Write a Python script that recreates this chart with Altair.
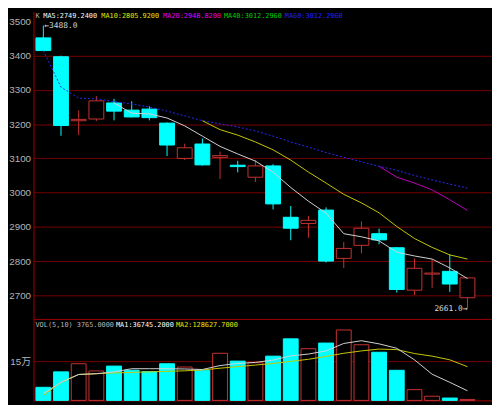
import altair as alt
import pandas as pd

# ---------------- data ----------------
opens  = [3452, 3397, 3210, 3215, 3262, 3241, 3244, 3203, 3100, 3142, 3103, 3080, 3045,
          3078, 2928, 2910, 2949, 2808, 2846, 2880, 2839, 2715, 2762, 2770, 2693]
closes = [3415, 3196, 3214, 3268, 3238, 3221, 3219, 3139, 3131, 3081, 3108, 3076, 3078,
          2967, 2896, 2919, 2800, 2837, 2896, 2862, 2717, 2779, 2765, 2733, 2751]
highs  = [3488, 3400, 3240, 3282, 3274, 3267, 3252, 3205, 3143, 3158, 3120, 3093, 3095,
          3083, 2961, 2932, 2957, 2856, 2916, 2895, 2841, 2808, 2806, 2820, 2751]
lows   = [3413, 3166, 3168, 3209, 3211, 3220, 3211, 3107, 3095, 3079, 3040, 3059, 3031,
          2951, 2861, 2868, 2796, 2780, 2823, 2849, 2708, 2701, 2722, 2710, 2661]
volumes = [50000, 109000, 140000, 112500, 131000, 115000, 110000, 140000, 127500, 115000,
           180000, 150000, 144000, 169000, 235000, 197500, 219000, 269000, 212500, 184000,
           115000, 41000, 16000, 9000, 3765]

ma5_start = 4
ma5 = [3262, 3232, 3230, 3218, 3195, 3165, 3135, 3113, 3092, 3060, 3015, 2975, 2940,
       2880, 2871, 2859, 2826, 2815, 2806, 2780, 2749]
ma10_start = 9
ma10 = [3210, 3184, 3168, 3148, 3125, 3095, 3060, 3028, 2995, 2970, 2941, 2901, 2866,
        2840, 2818, 2806]
ma20_start = 19
ma20 = [3077, 3045, 3028, 3008, 2979, 2948]
ma60_start = 0
ma60 = [3415, 3308, 3276, 3274, 3266, 3259, 3250, 3238, 3224, 3210, 3201, 3192, 3180,
        3165, 3148, 3133, 3117, 3103, 3090, 3077, 3065, 3050, 3037, 3025, 3013]

vol_ma5 = [26000, 69000, 99000, 102000, 109000, 121000, 121000, 121000, 120000, 118000,
           133000, 141000, 145000, 154000, 170000, 177000, 189000, 217500, 228000, 216000,
           199000, 155000, 100000, 69000, 36745]
vol_ma10 = [19000, 69000, 99000, 102000, 105000, 107000, 109000, 111000, 113000, 116000,
            123000, 129000, 135000, 141000, 149000, 157000, 168000, 180000, 189000, 196000,
            194000, 179000, 169000, 155000, 128628]

price_ticks = [2700, 2800, 2900, 3000, 3100, 3200, 3300, 3400, 3500]
vol_ticks = [150000]
vol_tick_label = "15万"

header_texts = ["K", "MA5:2749.2400", "MA10:2805.9200", "MA20:2948.8200",
                "MA40:3012.2960", "MA60:3012.2960"]
vol_header_texts = ["VOL(5,10) 3765.0000", "MA1:36745.2000", "MA2:128627.7000"]

# ---------------- styling ----------------
BG = "#000000"
CYAN = "#00ffff"
RED = "#c83232"
GRID = "#780000"
AXIS = "#a00000"
LABEL = "#b4b4b4"
MONO = "DejaVu Sans Mono"
SANS = "Liberation Sans, Noto Sans CJK SC"

header_colors = ["#b4b4b4", "#ffffff", "#e6e600", "#e600e6", "#00d000", "#2020ff"]
header_x = [2, 10, 69, 132, 194, 256]
vol_header_colors = ["#b4b4b4", "#ffffff", "#e6e600"]
vol_header_x = [2, 84, 145]

W = 467
H1 = 313
H2 = 83

n = len(opens)
df = pd.DataFrame({
    "i": list(range(n)),
    "open": opens, "close": closes, "high": highs, "low": lows, "vol": volumes,
    "vma5": vol_ma5, "vma10": vol_ma10,
})
df["dir"] = ["up" if c >= o else "down" for o, c in zip(opens, closes)]


def series(start, vals):
    return pd.DataFrame({"i": list(range(start, start + len(vals))), "v": vals})


xs = alt.Scale(domain=[-0.5556, 25.3889], nice=False, zero=False)
ys = alt.Scale(domain=[2631.1, 3528.7], nice=False, zero=False)
vs = alt.Scale(domain=[0, 311250], nice=False, zero=False)
dir_dom = ["up", "down"]
stroke_scale = alt.Scale(domain=dir_dom, range=[RED, CYAN])
fill_scale = alt.Scale(domain=dir_dom, range=[BG, CYAN])

x_axis = alt.Axis(labels=False, ticks=False, grid=False, domainColor=AXIS, title=None,
                  minExtent=0, maxExtent=0)
y_axis = alt.Axis(values=price_ticks, title=None, ticks=False, grid=True, gridColor=GRID,
                  gridOpacity=alt.condition("datum.value >= 3500", alt.value(0), alt.value(1)),
                  domainColor=AXIS, labelColor=LABEL, labelFont=SANS, labelFontSize=10,
                  labelPadding=3, minExtent=25, maxExtent=25, format="d")
v_axis = alt.Axis(values=vol_ticks, title=None, ticks=False, grid=True, gridColor=GRID,
                  domainColor=AXIS, labelColor=LABEL, labelFont=SANS, labelFontSize=10,
                  labelPadding=3, minExtent=25, maxExtent=25,
                  labelExpr="'" + vol_tick_label + "'")

X = lambda f: alt.X(f, type="quantitative", scale=xs, axis=x_axis)

base = alt.Chart(df)

wicks = base.mark_rule(strokeWidth=1).encode(
    x=X("i"),
    y=alt.Y("low:Q", scale=ys, axis=y_axis),
    y2="high:Q",
    color=alt.Color("dir:N", scale=stroke_scale, legend=None),
)

bodies = base.transform_calculate(
    xl="datum.i - 0.42", xr="datum.i + 0.42"
).mark_rect(strokeWidth=1).encode(
    x=X("xl"), x2="xr:Q",
    y=alt.Y("open:Q", scale=ys, axis=y_axis), y2="close:Q",
    fill=alt.Fill("dir:N", scale=fill_scale, legend=None),
    stroke=alt.Stroke("dir:N", scale=stroke_scale, legend=None),
)


def ma_line(start, vals, color, dash=None, scale=ys, axis=y_axis):
    kw = dict(color=color, strokeWidth=1)
    if dash:
        kw["strokeDash"] = dash
    return alt.Chart(series(start, vals)).mark_line(**kw).encode(
        x=X("i"), y=alt.Y("v:Q", scale=scale, axis=axis))


l60 = ma_line(ma60_start, ma60, "#2a2aff", dash=[2, 2])
l20 = ma_line(ma20_start, ma20, "#c000c0")
l10 = ma_line(ma10_start, ma10, "#c8c800")
l5 = ma_line(ma5_start, ma5, "#d2d2d2")

hi_i = highs.index(max(highs))
lo_i = lows.index(min(lows))
ann_hi = alt.Chart(pd.DataFrame({"i": [hi_i], "p": [max(highs)],
                                 "t": ["\u2190" + f"{max(highs):.1f}"]})).mark_text(
    align="left", baseline="middle", font=MONO, fontSize=8, color="#d8d8d8", dx=1
).encode(x=X("i"), y=alt.Y("p:Q", scale=ys, axis=y_axis), text="t:N")
ann_lo = alt.Chart(pd.DataFrame({"i": [lo_i], "p": [min(lows)],
                                 "t": [f"{min(lows):.1f}" + "\u2192"]})).mark_text(
    align="right", baseline="middle", font=MONO, fontSize=8, color="#d8d8d8", dx=0
).encode(x=X("i"), y=alt.Y("p:Q", scale=ys, axis=y_axis), text="t:N")


def label(text, color, px, py):
    return alt.Chart(pd.DataFrame({"t": [text]})).mark_text(
        align="left", baseline="middle", font=MONO, fontSize=7, color=color
    ).encode(text="t:N", x=alt.value(px), y=alt.value(py))


headers = [label(t, c, px, 5) for t, c, px in zip(header_texts, header_colors, header_x)]

main = alt.layer(wicks, bodies, l60, l20, l10, l5, ann_hi, ann_lo, *headers).properties(
    width=W, height=H1)

vbars = base.transform_calculate(
    xl="datum.i - 0.42", xr="datum.i + 0.42", z="0"
).mark_rect(strokeWidth=1).encode(
    x=X("xl"), x2="xr:Q",
    y=alt.Y("vol:Q", scale=vs, axis=v_axis), y2="z:Q",
    fill=alt.Fill("dir:N", scale=fill_scale, legend=None),
    stroke=alt.Stroke("dir:N", scale=stroke_scale, legend=None),
)
vl5 = base.mark_line(color="#d2d2d2", strokeWidth=1).encode(
    x=X("i"), y=alt.Y("vma5:Q", scale=vs, axis=v_axis))
vl10 = base.mark_line(color="#c8c800", strokeWidth=1).encode(
    x=X("i"), y=alt.Y("vma10:Q", scale=vs, axis=v_axis))
vheaders = [label(t, c, px, 6) for t, c, px in zip(vol_header_texts, vol_header_colors, vol_header_x)]

vol = alt.layer(vbars, vl10, vl5, *vheaders).properties(width=W, height=H2)

chart = alt.vconcat(main, vol, spacing=0).resolve_scale(
    y="independent"
).properties(
    padding=0, background=BG
).configure_view(strokeWidth=0)

chart.save("out.html", embed_options={"renderer": "svg", "actions": False})
